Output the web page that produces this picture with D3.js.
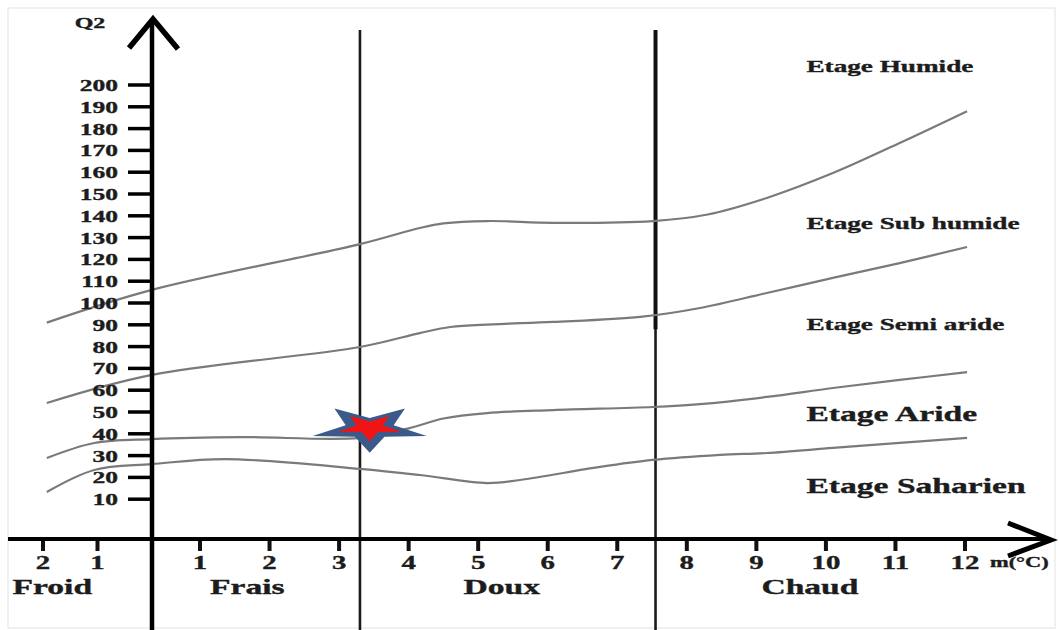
<!DOCTYPE html>
<html>
<head>
<meta charset="utf-8">
<script src="https://cdn.jsdelivr.net/npm/d3@7"></script>
<style>
  html, body { margin: 0; padding: 0; background: #fff; }
  svg { display: block; }
  text { font-family: "Liberation Serif", "Times New Roman", serif; font-weight: bold; fill: #1c1c1c; stroke: #1c1c1c; stroke-width: 0.35px; }
</style>
</head>
<body>
<svg id="chart" width="1059" height="630"></svg>
<script>
// Emberger climagram: pluviothermic quotient Q2 against m (°C)

// Axis ticks
const xTicks = [-2, -1, 1, 2, 3, 4, 5, 6, 7, 8, 9, 10, 11, 12];
const yTicks = [10, 20, 30, 40, 50, 60, 70, 80, 90, 100, 110, 120, 130, 140, 150, 160, 170, 180, 190, 200];

// Thermal variants along m and the limits between them
const zoneNames = ["Froid", "Frais", "Doux", "Chaud"];
const zoneLabelM = [-1.83, 1.68, 5.34, 9.77];
const zoneLimits = [3.3, 7.55];

// Bioclimatic stages (labels) and the Q2 at which each label sits
const stageNames = ["Etage Humide", "Etage Sub humide", "Etage Semi aride", "Etage Aride", "Etage Saharien"];
const stageLabelQ2 = [206, 134, 87.5, 46, 13];
const stageLabelM = 9.72;

// Limits between stages: [m, Q2]
const limitHumide = [[-1.93, 91], [0, 106], [3.3, 127], [4.16, 134.4], [4.5, 136.5], [5.13, 137.6], [6.08, 136.8], [7.51, 137.6], [8.3, 140.6], [9.15, 148.2], [10.1, 159.6], [11.06, 173.4], [12.03, 188]];
const limitSubHumide = [[-1.93, 54.1], [0, 67], [3.3, 79.8], [4.16, 86.2], [4.6, 89], [5.2, 90.2], [6.08, 91.3], [7.33, 93.6], [8.19, 97.7], [9.15, 104.6], [10.1, 111.5], [11.06, 118.3], [12.03, 125.7]];
const limitSemiAride = [[-1.93, 28.9], [-1.06, 35.8], [0, 37.6], [1.58, 38.5], [3.3, 38.1], [4.0, 42.5], [4.5, 47], [5.13, 49.5], [6.08, 50.9], [7.51, 52.3], [8.19, 53.6], [9.15, 56.9], [10.1, 61], [11.06, 64.7], [12.03, 68.3]];
const limitAride = [[-1.93, 13.3], [-1.06, 23.4], [0, 26.1], [1.36, 28.4], [3.3, 23.9], [4.16, 21.1], [5.13, 17.4], [5.6, 18.8], [6.75, 24.8], [7.51, 28], [8.48, 30.3], [9.15, 31.2], [10.1, 33.5], [11.06, 35.8], [12.03, 38.1]];

// Station position
const stationM = 3.44;
const stationQ2 = 42.5;

const svg = d3.select("#chart");
const W = 1059, H = 630;

// m axis: negative side and the first unit are drawn compressed
const x = d3.scaleLinear().domain([-2, 0, 1, 12]).range([43, 152, 200, 965]);
const y = d3.scaleLinear().domain([0, 200]).range([521, 85]);
const axisY = y(0) + 18;
const axisX = x(0);

// Frame
svg.append("rect").attr("x", 8).attr("y", 8).attr("width", W - 12).attr("height", H - 10)
  .attr("fill", "#fff").attr("stroke", "#ececec").attr("stroke-width", 1.5);

// Horizontally stretched serif labels
function label(txt, px, py, size, anchor, stretch) {
  svg.append("text")
    .attr("transform", `translate(${px},${py}) scale(${stretch},1)`)
    .attr("text-anchor", anchor || "start")
    .style("font-size", size + "px")
    .text(txt);
}

// Zone limits (vertical lines)
zoneLimits.forEach((m, i) => {
  svg.append("line")
    .attr("x1", x(m)).attr("x2", x(m)).attr("y1", 30).attr("y2", H)
    .attr("stroke", "#1a1a1a").attr("stroke-width", 2.6);
  if (i === 1) {
    svg.append("line")
      .attr("x1", x(m)).attr("x2", x(m)).attr("y1", 30).attr("y2", y(88))
      .attr("stroke", "#111").attr("stroke-width", 4);
  }
});

// Stage limit curves
const line = d3.line().x(d => x(d[0])).y(d => y(d[1])).curve(d3.curveCatmullRom.alpha(0.5));
[limitHumide, limitSubHumide, limitSemiAride, limitAride].forEach(series => {
  svg.append("path").attr("d", line(series))
    .attr("fill", "none").attr("stroke", "#7a7a7a").attr("stroke-width", 2.2);
});

// Y axis with arrow
svg.append("line").attr("x1", axisX).attr("x2", axisX).attr("y1", 20).attr("y2", H)
  .attr("stroke", "#000").attr("stroke-width", 4.5);
svg.append("polyline")
  .attr("points", `${axisX - 23},48 ${axisX + 1},19 ${axisX + 26},49`)
  .attr("fill", "none").attr("stroke", "#000").attr("stroke-width", 5.5).attr("stroke-linejoin", "miter");
yTicks.forEach(t => {
  svg.append("line").attr("x1", axisX - 24).attr("x2", axisX).attr("y1", y(t)).attr("y2", y(t))
    .attr("stroke", "#000").attr("stroke-width", 3.5);
  label(String(t), axisX - 34, y(t) + 6, 17, "end", 1.5);
});
label("Q2", 90, 28, 15, "middle", 1.6);

// X axis with arrow
svg.append("line").attr("x1", 8).attr("x2", 1050).attr("y1", axisY).attr("y2", axisY)
  .attr("stroke", "#000").attr("stroke-width", 4);
svg.append("polyline")
  .attr("points", `1008,${axisY - 16} 1051,${axisY + 1} 1008,${axisY + 17}`)
  .attr("fill", "none").attr("stroke", "#000").attr("stroke-width", 5).attr("stroke-linejoin", "miter");
xTicks.forEach(t => {
  svg.append("rect").attr("x", x(t) - 2).attr("y", axisY + 2).attr("width", 4).attr("height", 10)
    .attr("fill", "#111");
  label(String(Math.abs(t)), x(t), axisY + 30, 18, "middle", 1.6);
});
label("m(°C)", 990, axisY + 28, 14, "start", 1.6);

// Thermal variant labels
zoneNames.forEach((n, i) => label(n, x(zoneLabelM[i]), axisY + 55, 21, "middle", 1.6));

// Stage labels
const stageSizes = [17, 17, 17, 21, 21];
stageNames.forEach((n, i) => label(n, x(stageLabelM), y(stageLabelQ2[i]), stageSizes[i], "start", 1.6));

// Station marker: flattened five-point star pointing down
function starPath(cx, cy, rx, ry, inner) {
  const pts = [];
  for (let k = 0; k < 10; k++) {
    const a = Math.PI / 2 + k * Math.PI / 5;
    const r = k % 2 === 0 ? 1 : inner;
    pts.push([cx + Math.cos(a) * rx * r, cy + Math.sin(a) * ry * r]);
  }
  return "M" + pts.map(p => p.join(",")).join("L") + "Z";
}
const sx = x(stationM), sy = y(stationQ2);
svg.append("path").attr("d", starPath(sx, sy, 60, 24.5, 0.42)).attr("fill", "#3b5a8a");
svg.append("path").attr("d", starPath(sx, sy - 1, 33, 14, 0.42)).attr("fill", "#f01414");
</script>
</body>
</html>
